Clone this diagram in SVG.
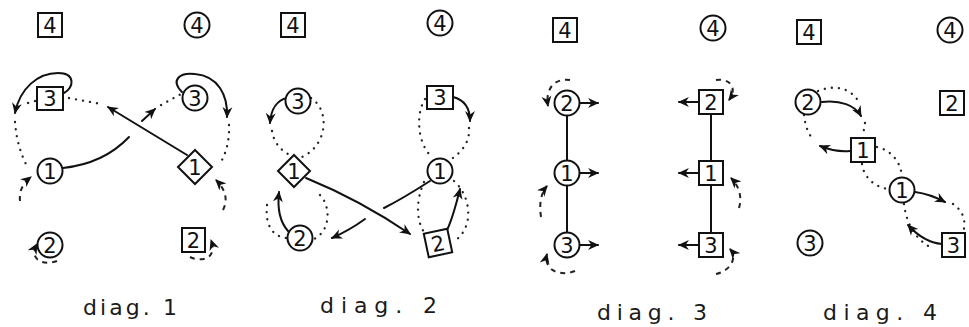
<svg xmlns="http://www.w3.org/2000/svg" width="969" height="327" viewBox="0 0 969 327">
<defs>
<marker id="ah" viewBox="0 0 10 10" refX="9" refY="5" markerWidth="11" markerHeight="11" markerUnits="userSpaceOnUse" orient="auto">
<path d="M0,0.5 L10,5 L0,9.5 L3,5 z" fill="#111"/>
</marker>
<style>
.bg{fill:#fff}
.shape{fill:#fff;stroke:#111;stroke-width:2}
.num{font-family:"DejaVu Sans","Liberation Sans",sans-serif;font-size:21px;fill:#111;text-anchor:middle}
.cap{font-family:"DejaVu Sans","Liberation Sans",sans-serif;font-size:22px;fill:#1a1a1a}
.solid{fill:none;stroke:#111;stroke-width:2;stroke-linecap:round}
.arr{marker-end:url(#ah)}
.dot{fill:none;stroke:#222;stroke-width:2.3;stroke-linecap:round;stroke-dasharray:0.1 7}
.dash{fill:none;stroke:#222;stroke-width:2;stroke-dasharray:5 5}
</style>
</defs>
<rect class="bg" x="0" y="0" width="969" height="327"/>

<g id="connectors">
<!-- diag 1 -->
<path class="solid arr" d="M64,93 C74,88 76,73 58,73 C38,73 20,88 15,113"/>
<path class="dot" d="M69,98 L101,104"/>
<path class="dot" d="M35,101 L28,103"/>
<path class="dot" d="M15,122 Q17,148 28,168"/>
<path class="solid" d="M63,168 C90,165 112,155 129,137"/>
<path class="solid arr" d="M142,121 L155,109"/>
<path class="dot" d="M161,105 L181,94"/>
<path class="solid arr" d="M187,155 L108,107"/>
<path class="solid arr" d="M182,92 C170,80 180,72 195,74 C218,76 228,95 227,117"/>
<path class="dot" d="M229,125 Q230,145 221,162"/>
<path class="dash arr" d="M223,210 C228,200 226,190 216,180"/>
<path class="dash arr" d="M20,201 C19,192 22,184 31,177"/>
<path class="dash arr" d="M57,261 C44,266 28,260 37,244"/>
<path class="dash arr" d="M190,257 C200,262 218,260 211,240"/>
<!-- diag 2 -->
<path class="solid arr" d="M287,98 C278,100 271,108 270,123"/>
<path class="dot" d="M311,98 C330,110 328,145 302,157"/>
<path class="dot" d="M272,131 C274,143 281,150 288,154"/>
<path class="solid arr" d="M306,178 Q360,200 410,234"/>
<path class="solid" d="M430,181 Q402,199 384,208"/>
<path class="solid arr" d="M365,219 Q350,230 332,238"/>
<path class="solid arr" d="M288,231 C280,222 277,210 279,192"/>
<path class="dot" d="M267,205 C265,225 272,236 286,238"/>
<path class="dot" d="M320,195 C330,205 332,230 314,239"/>
<path class="solid arr" d="M453,97 C465,100 470,108 470,121"/>
<path class="dot" d="M425,99 C415,115 418,145 432,157"/>
<path class="dot" d="M469,128 C470,142 462,152 450,160"/>
<path class="solid arr" d="M447,230 C452,220 456,205 460,189"/>
<path class="dot" d="M424,182 C416,200 416,220 424,232"/>
<path class="dot" d="M454,181 C470,195 475,225 456,240"/>
<!-- diag 3 -->
<path class="solid" d="M567,116 L567,160 M567,186 L567,232 M711,115 L711,160 M711,186 L711,233"/>
<path class="solid arr" d="M580,103 L598,103"/>
<path class="solid arr" d="M580,173 L598,173"/>
<path class="solid arr" d="M580,245 L598,245"/>
<path class="solid arr" d="M698,102 L679,102"/>
<path class="solid arr" d="M698,173 L679,173"/>
<path class="solid arr" d="M698,245 L679,245"/>
<path class="dash arr" d="M570,80 C555,78 545,88 548,106"/>
<path class="dash arr" d="M541,217 C539,203 541,193 547,186"/>
<path class="dash arr" d="M575,271 C560,277 543,270 547,254"/>
<path class="dash arr" d="M716,80 C730,78 738,88 729,100"/>
<path class="dash arr" d="M739,208 C742,198 740,187 731,178"/>
<path class="dash arr" d="M716,274 C730,271 738,258 730,249"/>
<!-- diag 4 -->
<path class="solid arr" d="M822,102 C840,100 855,105 861,116"/>
<path class="dot" d="M818,91 C835,84 852,88 860,104"/>
<path class="dot" d="M865,123 L863,136"/>
<path class="dot" d="M804,115 C805,125 808,133 812,138"/>
<path class="solid arr" d="M850,151 C840,152 830,150 820,146"/>
<path class="dot" d="M877,147 C890,150 900,160 902,176"/>
<path class="dot" d="M862,164 C864,178 875,187 888,189"/>
<path class="solid arr" d="M915,192 Q930,194 945,202"/>
<path class="dot" d="M953,204 C962,210 967,220 963,233"/>
<path class="dot" d="M904,204 C906,222 915,240 932,248"/>
<path class="solid arr" d="M942,244 C930,243 918,236 908,225"/>
</g>

<!-- diag 1 nodes -->
<g id="d1-sq4"><rect class="shape" x="38" y="13" width="24" height="24"/><text class="num" x="50" y="33">4</text></g>
<g id="d1-ci4"><circle class="shape" cx="197" cy="25" r="12.5"/><text class="num" x="197" y="32.5">4</text></g>
<g id="d1-sq3"><rect class="shape" x="37" y="87" width="26" height="23"/><text class="num" x="50" y="106">3</text></g>
<g id="d1-ci3"><circle class="shape" cx="195" cy="98" r="12.5"/><text class="num" x="195" y="105.5">3</text></g>
<g id="d1-ci1"><circle class="shape" cx="50" cy="171" r="12.5"/><text class="num" x="50" y="178.5">1</text></g>
<g id="d1-di1"><polygon class="shape" points="195,150 212,167 195,184 178,167"/><text class="num" x="195" y="174.5">1</text></g>
<g id="d1-ci2"><circle class="shape" cx="50" cy="245" r="12.5"/><text class="num" x="50" y="252.5">2</text></g>
<g id="d1-sq2"><rect class="shape" x="182" y="228" width="23" height="24"/><text class="num" x="193.5" y="248">2</text></g>

<!-- diag 2 nodes -->
<g id="d2-sq4"><rect class="shape" x="281" y="13" width="24" height="24"/><text class="num" x="293" y="33">4</text></g>
<g id="d2-ci4"><circle class="shape" cx="440" cy="23" r="12.5"/><text class="num" x="440" y="30.5">4</text></g>
<g id="d2-ci3"><circle class="shape" cx="298" cy="101" r="12.5"/><text class="num" x="298" y="108.5">3</text></g>
<g id="d2-sq3"><rect class="shape" x="427" y="86" width="26" height="23"/><text class="num" x="440" y="105">3</text></g>
<g id="d2-di1"><polygon class="shape" points="294,155 310,171 294,187 278,171"/><text class="num" x="294" y="178.5">1</text></g>
<g id="d2-ci1"><circle class="shape" cx="440" cy="171" r="12.5"/><text class="num" x="440" y="178.5">1</text></g>
<g id="d2-ci2"><circle class="shape" cx="300" cy="238" r="12.5"/><text class="num" x="300" y="245.5">2</text></g>
<g id="d2-sq2" transform="rotate(-12 438 243)"><rect class="shape" x="426" y="231" width="24" height="24"/><text class="num" x="438" y="251">2</text></g>

<!-- diag 3 nodes -->
<g id="d3-sq4"><rect class="shape" x="553" y="18" width="24" height="24"/><text class="num" x="565" y="38">4</text></g>
<g id="d3-ci4"><circle class="shape" cx="713" cy="28" r="12.5"/><text class="num" x="713" y="35.5">4</text></g>
<g id="d3-ci2"><circle class="shape" cx="567" cy="103" r="12.5"/><text class="num" x="567" y="110.5">2</text></g>
<g id="d3-ci1"><circle class="shape" cx="567" cy="173" r="12.5"/><text class="num" x="567" y="180.5">1</text></g>
<g id="d3-ci3"><circle class="shape" cx="567" cy="245" r="12.5"/><text class="num" x="567" y="252.5">3</text></g>
<g id="d3-sq2"><rect class="shape" x="699" y="90" width="24" height="24"/><text class="num" x="711" y="110">2</text></g>
<g id="d3-sq1"><rect class="shape" x="699" y="161" width="24" height="24"/><text class="num" x="711" y="181">1</text></g>
<g id="d3-sq3"><rect class="shape" x="699" y="233" width="24" height="24"/><text class="num" x="711" y="253">3</text></g>

<!-- diag 4 nodes -->
<g id="d4-sq4"><rect class="shape" x="797" y="20" width="24" height="24"/><text class="num" x="809" y="40">4</text></g>
<g id="d4-ci4"><circle class="shape" cx="950" cy="30" r="12.5"/><text class="num" x="950" y="37.5">4</text></g>
<g id="d4-ci2"><circle class="shape" cx="808" cy="102" r="12.5"/><text class="num" x="808" y="109.5">2</text></g>
<g id="d4-sq2"><rect class="shape" x="940" y="91" width="24" height="24"/><text class="num" x="952" y="111">2</text></g>
<g id="d4-sq1"><rect class="shape" x="851" y="138" width="24" height="24"/><text class="num" x="863" y="158">1</text></g>
<g id="d4-ci1"><circle class="shape" cx="902" cy="190" r="12.5"/><text class="num" x="902" y="197.5">1</text></g>
<g id="d4-ci3"><circle class="shape" cx="810" cy="243" r="12.5"/><text class="num" x="810" y="250.5">3</text></g>
<g id="d4-sq3"><rect class="shape" x="942" y="233" width="23" height="24"/><text class="num" x="953.5" y="253">3</text></g>

<g id="captions">
<text class="cap" x="83" y="315" textLength="94" lengthAdjust="spacing">diag. 1</text>
<text class="cap" x="320" y="313" textLength="117" lengthAdjust="spacing">diag. 2</text>
<text class="cap" x="597" y="320" textLength="110" lengthAdjust="spacing">diag. 3</text>
<text class="cap" x="823" y="320" textLength="114" lengthAdjust="spacing">diag. 4</text>
</g>
</svg>
